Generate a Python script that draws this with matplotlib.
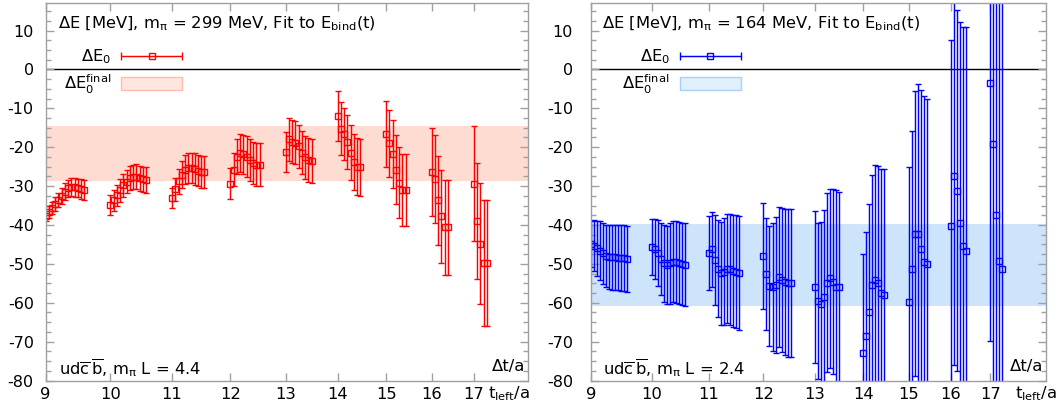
import numpy as np
import matplotlib
matplotlib.use("Agg")
import matplotlib.pyplot as plt
from matplotlib.patches import Patch
from matplotlib.container import ErrorbarContainer
from matplotlib.legend_handler import HandlerErrorbar
from matplotlib.ticker import MultipleLocator

plt.rcParams["font.family"] = ["DejaVu Sans"]
plt.rcParams["mathtext.fontset"] = "dejavusans"
plt.rcParams["mathtext.default"] = "regular"
plt.rcParams["axes.unicode_minus"] = False

# t_left/a groups, one group of Delta t/a points each
t_left = [9, 10, 11, 12, 13, 14, 15, 16, 17]

# m_pi = 299 MeV
left_mean = [
    [-37.8, -36.6, -35.6, -34.6, -33.6, -32.5, -31.4, -30.6, -30.2, -30.3, -30.5, -30.8, -31.0],
    [-34.8, -33.6, -32.4, -31.1, -29.8, -28.9, -28.0, -27.6, -27.6, -28.0, -28.3, -28.5],
    [-33.1, -30.8, -28.8, -27.1, -25.8, -25.4, -25.3, -25.6, -26.1, -26.3, -26.4],
    [-29.4, -25.8, -22.4, -21.5, -21.8, -22.4, -23.3, -24.1, -24.5, -24.5],
    [-21.3, -18.0, -18.6, -18.8, -19.8, -21.4, -22.6, -23.3, -23.5],
    [-12.0, -15.2, -16.6, -18.6, -21.4, -23.7, -25.0, -25.2],
    [-16.6, -19.0, -21.7, -25.8, -29.1, -31.0, -31.0],
    [-26.3, -28.2, -33.7, -37.8, -40.6, -40.6],
    [-29.4, -39.0, -44.8, -49.8, -49.8],
]
left_err = [
    [1.3, 1.5, 1.6, 1.8, 1.9, 2.0, 2.1, 2.2, 2.3, 2.4, 2.4, 2.5, 2.5],
    [2.6, 2.7, 2.8, 2.9, 3.0, 3.0, 3.1, 3.1, 3.2, 3.2, 3.3, 3.3],
    [2.6, 3.0, 3.3, 3.5, 3.7, 3.8, 3.9, 4.0, 4.0, 4.1, 4.1],
    [4.0, 4.3, 4.6, 4.8, 5.0, 5.2, 5.3, 5.4, 5.5, 5.5],
    [5.1, 5.5, 5.5, 5.5, 5.6, 5.6, 5.6, 5.7, 5.7],
    [6.5, 6.7, 6.8, 7.0, 7.1, 7.2, 7.3, 7.3],
    [8.5, 8.6, 8.8, 8.9, 9.2, 9.3, 9.3],
    [11.3, 11.3, 11.5, 11.9, 12.2, 12.2],
    [14.8, 14.9, 15.6, 16.2, 16.2],
]
left_band = (-28.6, -14.6)

# m_pi = 164 MeV
right_mean = [
    [-45.0, -45.3, -46.0, -46.6, -47.3, -47.9, -48.2, -48.3, -48.3, -48.4, -48.5, -48.6, -48.7],
    [-45.6, -46.2, -47.1, -48.8, -49.9, -50.3, -49.9, -49.5, -49.5, -49.7, -50.1, -50.2],
    [-47.3, -46.3, -49.0, -51.2, -52.4, -52.0, -51.2, -51.4, -51.8, -52.0, -52.3],
    [-48.0, -52.6, -55.7, -56.0, -55.4, -53.5, -54.2, -54.6, -54.9, -54.9],
    [-55.9, -59.5, -60.3, -58.5, -54.9, -53.7, -54.6, -55.9, -56.0],
    [-72.8, -68.5, -62.3, -55.4, -54.2, -55.0, -57.6, -58.0],
    [-59.9, -51.2, -42.2, -42.4, -46.3, -49.5, -50.1],
    [-40.2, -27.3, -31.2, -39.4, -45.5, -46.6],
    [-3.5, -19.1, -37.5, -49.3, -51.3],
]
right_err = [
    [5.9, 6.5, 7.0, 7.5, 7.8, 8.0, 8.2, 8.3, 8.3, 8.4, 8.4, 8.5, 8.5],
    [7.2, 7.8, 8.5, 9.2, 9.8, 10.1, 10.3, 10.4, 10.5, 10.5, 10.6, 10.6],
    [9.5, 9.7, 11.5, 12.5, 13.2, 13.7, 14.0, 14.2, 14.4, 14.5, 14.6],
    [13.7, 14.3, 15.5, 16.5, 17.5, 18.0, 18.5, 18.8, 19.0, 19.0],
    [19.5, 20.0, 21.0, 22.3, 23.0, 23.0, 23.8, 24.9, 24.5],
    [25.3, 26.6, 27.7, 28.2, 29.6, 30.2, 32.1, 32.3],
    [34.9, 35.4, 36.7, 38.6, 41.0, 42.6, 42.6],
    [47.7, 48.7, 46.4, 51.6, 56.5, 57.5],
    [66.3, 70.0, 75.0, 80.0, 85.0],
]
right_band = (-60.8, -39.8)

GAP = 7  # empty slots between t_left groups


def layout(groups):
    starts, xs, pos = [], [], 0
    for vals in groups:
        starts.append(pos)
        xs.append(pos + np.arange(len(vals)))
        pos += len(vals) + GAP
    return starts, xs


FS = 11.8
W, H = 1060, 411
fig = plt.figure(figsize=(W / 100, H / 100), dpi=100)
ybot, ytop = 380.5, 3.3


def make_panel(x0, x1, xmax, mean, err, band, color, band_col, leg_face, leg_edge,
               mpi, mpiL, ypad, handle_end):
    ax = fig.add_axes([x0 / W, (H - ybot) / H, (x1 - x0) / W, (ybot - ytop) / H])
    starts, xs = layout(mean)
    ax.axhspan(band[0], band[1], color=band_col, lw=0, zorder=0.5)
    ax.axhline(0, color="black", lw=1.0, zorder=1.5)
    for x, m, e in zip(xs, mean, err):
        ax.errorbar(x, m, yerr=e, fmt="s", ms=5.0, mfc="none", mec=color, mew=1.0,
                    ecolor=color, elinewidth=1.05, capsize=2.2, capthick=1.05, zorder=2)
    ax.set_xlim(0, xmax)
    ax.set_ylim(-80, 17.0)
    ax.set_xticks(starts)
    ax.set_xticklabels([str(t) for t in t_left])
    ax.yaxis.set_major_locator(MultipleLocator(10))
    ax.yaxis.set_minor_locator(MultipleLocator(2.5))
    for s in ax.spines.values():
        s.set_color("#a0a0a0")
        s.set_linewidth(1.0)
    ax.tick_params(which="both", direction="in", top=True, right=True, color="#a0a0a0")
    ax.tick_params(which="major", length=5.5, width=1.0)
    ax.tick_params(which="minor", length=3.5, width=1.0)
    ax.tick_params(axis="x", labelsize=11.8, pad=5)
    ax.tick_params(axis="y", labelsize=11.5, pad=ypad)

    pw = x1 - x0
    ph = ybot - ytop
    ax.text(0.025, 0.935, r"$\Delta$E [MeV], m$_\pi$ = %d MeV, Fit to E$_{\rm bind}$(t)" % mpi,
            transform=ax.transAxes, fontsize=FS, va="baseline", ha="left")
    ax.text(0.027, 0.017, r"ud$\overline{\rm c}\,\overline{\rm b}$, m$_\pi$ L = %.1f" % mpiL,
            transform=ax.transAxes, fontsize=FS, va="baseline", ha="left")
    ax.text(0.995, 0.025, "\u0394t/a", transform=ax.transAxes, fontsize=FS,
            va="baseline", ha="right")

    # legend: label to the left of the sample, as in the reference
    hl = 61.4 / (FS * 100 / 72)
    proxy = ax.errorbar([np.nan], [np.nan], xerr=[1.0], fmt="s", ms=5.0, mfc="none",
                        mec=color, mew=1.0, ecolor=color, elinewidth=1.05, capsize=2.8,
                        capthick=1.05)
    anchor_x = (handle_end - x0) / pw
    leg1 = ax.legend([proxy], [r"$\Delta$E$_0$"], loc="center right",
                     bbox_to_anchor=(anchor_x, (ybot - 56.8) / ph),
                     frameon=False, markerfirst=False, fontsize=FS, borderpad=0,
                     borderaxespad=0, handlelength=hl, handletextpad=0.6, numpoints=1,
                     handler_map={ErrorbarContainer: HandlerErrorbar(xerr_size=hl / 2)})
    ax.add_artist(leg1)
    patch = Patch(facecolor=leg_face, edgecolor=leg_edge, lw=1.0)
    ax.legend([patch], [r"$\Delta$E$_0^{\rm final}$"], loc="center right",
              bbox_to_anchor=(anchor_x, (ybot - 84.5) / ph),
              frameon=False, markerfirst=False, fontsize=FS, borderpad=0,
              borderaxespad=0, handlelength=hl, handleheight=0.85, handletextpad=0.6)
    return ax


make_panel(45.5, 528.0, 148.7, left_mean, left_err, left_band, "#ff0000", "#ffdcd2",
           "#ffe7e0", "#ffbcaa", 299, 4.4, 8.4, 182.4)
make_panel(591.0, 1046.0, 150.4, right_mean, right_err, right_band, "#0000ff", "#cde4fa",
           "#e2effc", "#a8cff5", 164, 2.4, 13.0, 741.0)

fig.text(488 / W, (H - 398) / H, r"t$_{\rm left}$/a", fontsize=FS, va="baseline", ha="left")
fig.text(1015 / W, (H - 398) / H, r"t$_{\rm left}$/a", fontsize=FS, va="baseline", ha="left")

fig.savefig("out.png", dpi=100)
